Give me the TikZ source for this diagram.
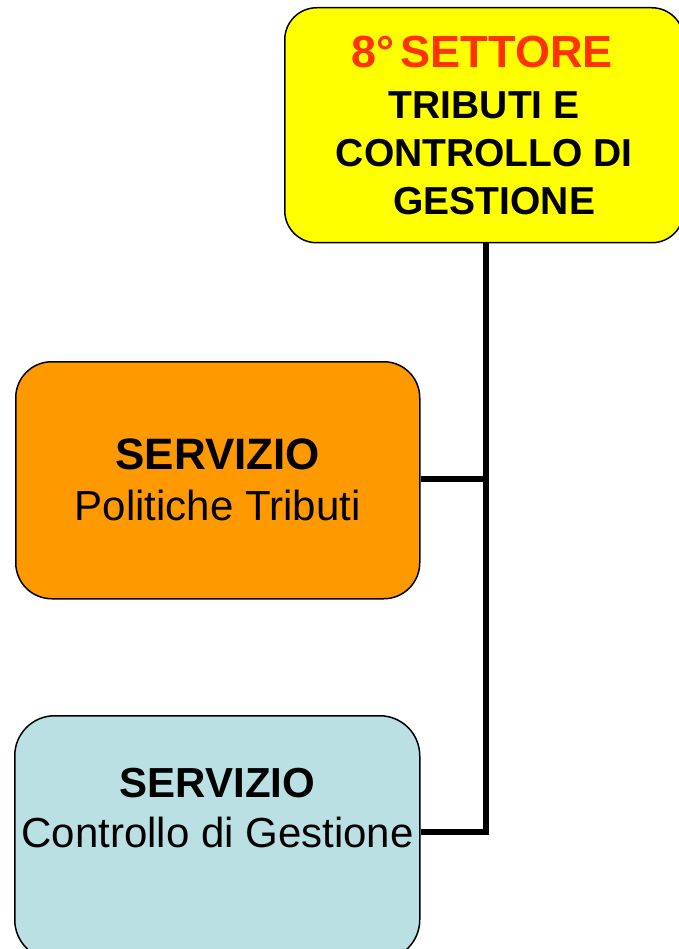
\documentclass[tikz,border=0pt]{standalone}
\usepackage{fontspec}
\setmainfont{Liberation Sans}
\definecolor{boxyellow}{HTML}{FFFF00}
\definecolor{boxorange}{HTML}{FF9900}
\definecolor{boxblue}{HTML}{BBE0E3}
\definecolor{titlered}{HTML}{FF3300}
\begin{document}
\begin{tikzpicture}[x=1pt,y=-1pt,
  unitbox/.style={draw=black, line width=1.5pt, rectangle, anchor=north west, inner sep=0pt, align=center},
  link/.style={draw=black, line width=6pt, line join=miter, line cap=butt}]
\useasboundingbox (0,0) rectangle (678,949);
\fill[white] (0,0) rectangle (678,949);
% boxes
\node[unitbox, fill=boxyellow, rounded corners=32pt, minimum width=399pt, minimum height=235pt,
      font=\fontsize{39}{48}\selectfont\bfseries] (settore) at (284,7)
  {\hspace*{-4pt}{\fontsize{45}{51}\selectfont\color{titlered}8°\hspace{6pt}SETTORE}\\[3pt]
   TRIBUTI E\hspace*{5pt}\\CONTROLLO DI\\\hspace*{20pt}GESTIONE};
\node[unitbox, fill=boxorange, rounded corners=36pt, minimum width=404pt, minimum height=237pt,
      font=\fontsize{42}{51}\selectfont] (politiche) at (15,361)
  {{\fontsize{44}{51}\selectfont\bfseries SERVIZIO}\\Politiche Tributi};
\node[unitbox, fill=boxblue, rounded corners=40pt, minimum width=405pt, minimum height=244pt] (controllo) at (14,715) {};
\node[inner sep=0pt, align=center, font=\fontsize{42}{50}\selectfont] (controllotext) at (217.5,808)
  {\textbf{SERVIZIO}\\Controllo di Gestione};
% connectors
\coordinate (j1) at (486,479);
\coordinate (j2) at (486,832);
\draw[link] (settore.south -| j1) -- (j2) -- (j2 -| controllo.east);
\draw[link] (j1 -| politiche.east) -- (j1);
\end{tikzpicture}
\end{document}
